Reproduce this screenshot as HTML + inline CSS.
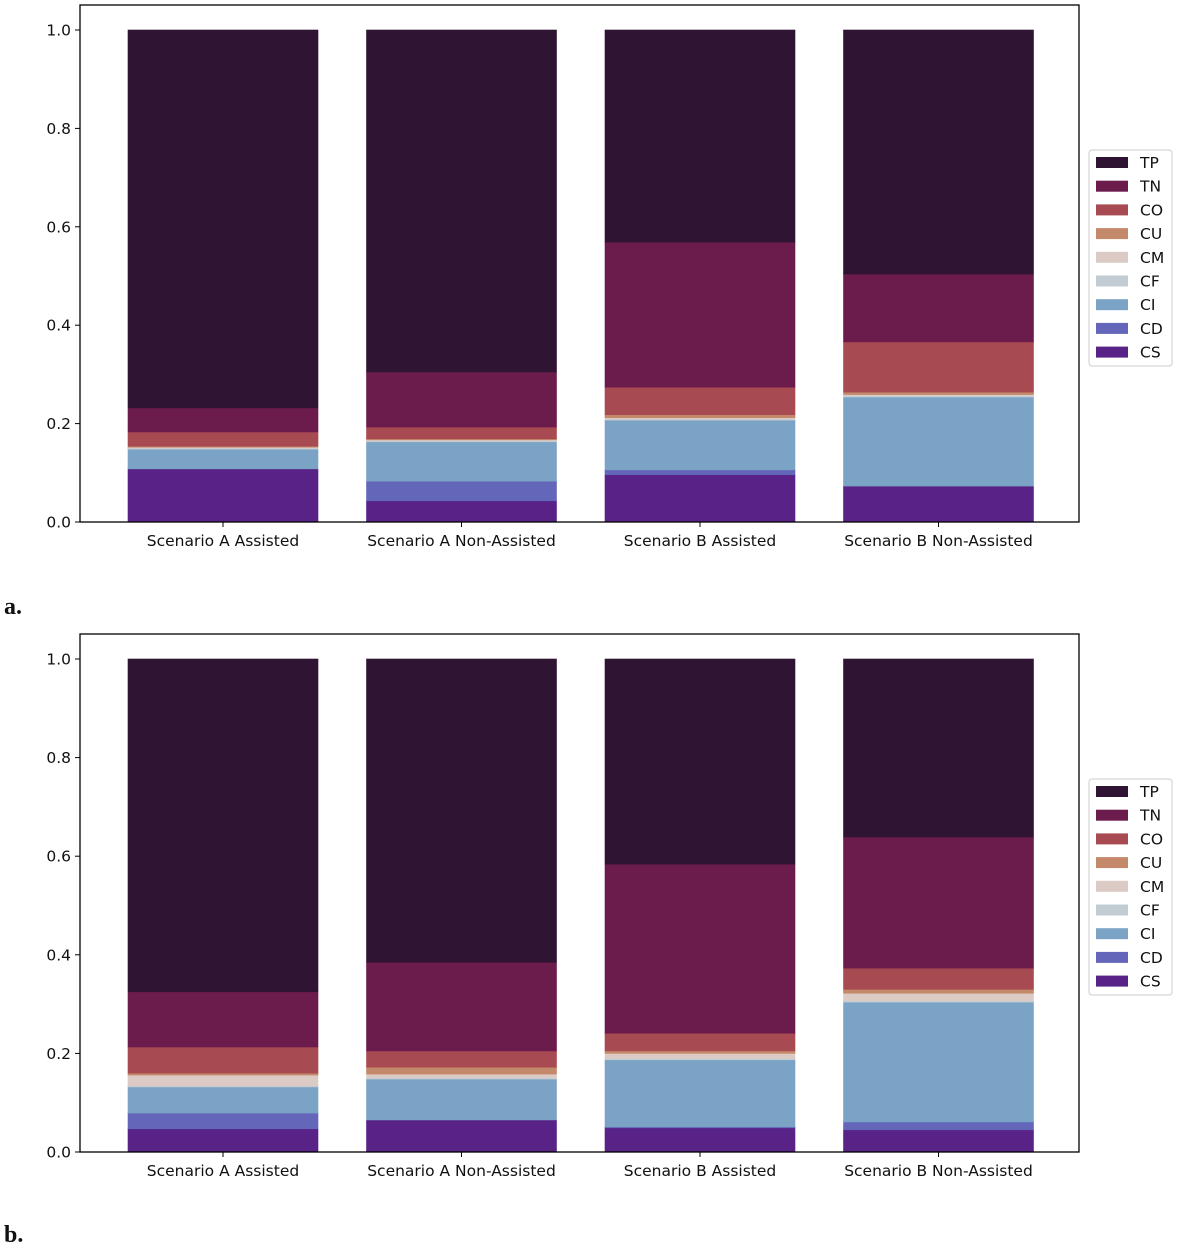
<!DOCTYPE html>
<html><head><meta charset="utf-8"><style>
html,body{margin:0;padding:0;background:#fff;}
svg{display:block;font-family:"DejaVu Sans","Liberation Sans",sans-serif;}
</style></head><body>
<svg id="chart" width="1177" height="1248" viewBox="0 0 1177 1248"></svg>
<script>
const categories = ["Scenario A Assisted","Scenario A Non-Assisted","Scenario B Assisted","Scenario B Non-Assisted"];
const seriesNames = ["CS","CD","CI","CF","CM","CU","CO","TN","TP"];
const seriesColors = ["#582287","#6366b9","#7ba3c5","#c2ccd3","#dccbc4","#c4896a","#a84a51","#6b1b4c","#2f1433"];
// panel a: values per series (order CS..TN), TP = remainder
const aCS = [0.108,0.043,0.096,0.073];
const aCD = [0.000,0.040,0.010,0.000];
const aCI = [0.040,0.080,0.101,0.181];
const aCF = [0.002,0.002,0.002,0.003];
const aCM = [0.002,0.002,0.003,0.002];
const aCU = [0.002,0.002,0.006,0.005];
const aCO = [0.029,0.024,0.056,0.102];
const aTN = [0.049,0.112,0.295,0.138];
// panel b
const bCS = [0.047,0.065,0.049,0.045];
const bCD = [0.032,0.000,0.002,0.016];
const bCI = [0.053,0.083,0.136,0.243];
const bCF = [0.002,0.002,0.003,0.003];
const bCM = [0.022,0.008,0.010,0.015];
const bCU = [0.004,0.014,0.005,0.008];
const bCO = [0.053,0.033,0.036,0.043];
const bTN = [0.112,0.180,0.343,0.266];
const yTicks = [0,0.2,0.4,0.6,0.8,1.0];
const yTickLabels = ["0.0","0.2","0.4","0.6","0.8","1.0"];

const NS="http://www.w3.org/2000/svg";
const svg=document.getElementById('chart');
function mk(tag,attrs,parent){const e=document.createElementNS(NS,tag);for(const k in attrs)e.setAttribute(k,attrs[k]);(parent||svg).appendChild(e);return e;}

function drawPanel(panelId, top, bottom, data, letter, letterY){
  const g=mk('g',{});
  
  
  const left=80,right=1079;
  const y0=bottom, y1=top+25;
  const yScale=v=>y0-(y0-y1)*v;
  const bw=190;
  const xCenter=i=>223+i*238.5;
  categories.forEach((c,i)=>{
    let cum=0;
    const vals=data.map(s=>s[i]);
    const sumOthers=vals.reduce((a,b)=>a+b,0);
    const all=vals.concat([1-sumOthers]);
    all.forEach((v,k)=>{
      const r=mk('rect',{x:xCenter(i)-bw/2,y:yScale(cum+v),width:bw,height:Math.max(0,yScale(cum)-yScale(cum+v)),fill:seriesColors[k],stroke:seriesColors[k],'stroke-width':0.6},g);
      
      
      cum+=v;
    });
    mk('line',{x1:xCenter(i),x2:xCenter(i),y1:y0,y2:y0+5,stroke:'#000','stroke-width':1},g);
    const t=mk('text',{x:xCenter(i),y:y0+24,'text-anchor':'middle','font-size':15.5,fill:'#111'},g);
    t.textContent=c;
    
    
  });
  yTicks.forEach((v,k)=>{
    mk('line',{x1:left-5,x2:left,y1:yScale(v),y2:yScale(v),stroke:'#000','stroke-width':1},g);
    const t=mk('text',{x:left-9,y:yScale(v)+5.5,'text-anchor':'end','font-size':15.5,fill:'#111'},g);
    t.textContent=yTickLabels[k];
    
    
  });
  const frame=mk('rect',{x:left,y:top,width:right-left,height:bottom-top,fill:'none',stroke:'#000','stroke-width':1.3},g);
  
  
  const lg=mk('g',{},g);
  
  
  const ly=top+145;
  mk('rect',{x:1089,y:ly,width:83,height:216,rx:3,fill:'#fff',stroke:'#ccc','stroke-width':1},lg);
  for(let k=8;k>=0;k--){
    const row=8-k;
    const yy=ly+7+row*23.7;
    const sw=mk('rect',{x:1096,y:yy,width:32,height:11,fill:seriesColors[k]},lg);
    
    
    const t=mk('text',{x:1140,y:yy+11,'font-size':15.5,fill:'#111'},lg);
    t.textContent=seriesNames[k];
    
    
  }
  const L=mk('text',{x:4,y:letterY,'font-size':24,'font-weight':'bold','font-family':'"Liberation Serif",serif',fill:'#111'});
  L.textContent=letter;
  
  
}
drawPanel('a',5,522,[aCS,aCD,aCI,aCF,aCM,aCU,aCO,aTN],'a.',614);
drawPanel('b',634,1152,[bCS,bCD,bCI,bCF,bCM,bCU,bCO,bTN],'b.',1242);
</script>
</body></html>
